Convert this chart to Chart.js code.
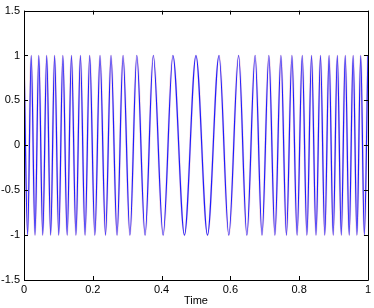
<!DOCTYPE html>
<html>
<head>
<meta charset="utf-8">
<script src="https://cdn.jsdelivr.net/npm/chart.js@4"></script>
<style>
  html, body { margin: 0; padding: 0; background: #fff; }
  #wrap { width: 374px; height: 308px; }
</style>
</head>
<body>
<div id="wrap"><canvas id="chirpChart" width="374" height="308"></canvas></div>
<script>
// times of the crests (y = 1) and troughs (y = -1)
const peakTimes = [
  0, 0.021, 0.043, 0.066, 0.089, 0.113, 0.138, 0.164, 0.191, 0.221, 0.253, 0.288, 0.328, 0.376, 0.433,
  0.5,
  0.567, 0.624, 0.672, 0.712, 0.747, 0.779, 0.809, 0.836, 0.862, 0.887, 0.911, 0.934, 0.957, 0.979, 1
];
const troughTimes = [
  0.0105, 0.032, 0.0545, 0.0775, 0.101, 0.1255, 0.151, 0.1775, 0.206, 0.237, 0.2705, 0.308, 0.352, 0.4045, 0.4665,
  0.5335, 0.5955, 0.648, 0.692, 0.7295, 0.763, 0.794, 0.8225, 0.849, 0.8745, 0.899, 0.9225, 0.9455, 0.968, 0.9895
];
const peakValue = 1;
const troughValue = -1;

const xTicks = [0, 0.2, 0.4, 0.6, 0.8, 1];
const xTickLabels = ['0', '0.2', '0.4', '0.6', '0.8', '1'];
const yTicks = [-1.5, -1, -0.5, 0, 0.5, 1, 1.5];
const yTickLabels = ['-1.5', '-1', '-0.5', '0', '0.5', '1', '1.5'];

const points = peakTimes.map(t => ({ x: t, y: peakValue }))
  .concat(troughTimes.map(t => ({ x: t, y: troughValue })))
  .sort((a, b) => a.x - b.x);

const FONT = { family: 'Liberation Sans, Arial, Helvetica, sans-serif', size: 11 };

// matlab style box with inward ticks
const boxPlugin = {
  id: 'box',
  afterDraw(chart) {
    const { ctx, chartArea: a, scales } = chart;
    ctx.save();
    ctx.strokeStyle = '#000';
    ctx.lineWidth = 1;
    ctx.beginPath();
    ctx.rect(Math.round(a.left) + 0.5, Math.round(a.top) + 0.5,
      Math.round(a.right - a.left), Math.round(a.bottom - a.top));
    const len = 4;
    xTicks.forEach(v => {
      const px = Math.round(scales.x.getPixelForValue(v)) + 0.5;
      ctx.moveTo(px, a.bottom); ctx.lineTo(px, a.bottom - len);
      ctx.moveTo(px, a.top); ctx.lineTo(px, a.top + len);
    });
    yTicks.forEach(v => {
      const py = Math.round(scales.y.getPixelForValue(v)) + 0.5;
      ctx.moveTo(a.left, py); ctx.lineTo(a.left + len, py);
      ctx.moveTo(a.right, py); ctx.lineTo(a.right - len, py);
    });
    ctx.stroke();
    ctx.restore();
  }
};

new Chart(document.getElementById('chirpChart'), {
  type: 'line',
  data: {
    datasets: [
      {
        data: points,
        borderColor: 'rgba(20,20,255,0.95)',
        borderWidth: 1.2,
        pointRadius: 0,
        cubicInterpolationMode: 'monotone',
        order: 0
      },
      {
        data: points,
        borderColor: 'rgba(200,60,120,0.22)',
        borderWidth: 2.2,
        pointRadius: 0,
        cubicInterpolationMode: 'monotone',
        order: 1
      }
    ]
  },
  options: {
    responsive: false,
    animation: false,
    devicePixelRatio: 1,
    layout: { padding: { top: 8, right: 5, left: 0, bottom: 0 } },
    plugins: { legend: { display: false }, tooltip: { enabled: false } },
    scales: {
      x: {
        type: 'linear',
        min: 0, max: 1,
        afterBuildTicks: s => { s.ticks = xTicks.map(v => ({ value: v })); },
        afterFit: s => { s.height = 28; },
        grid: { display: false, drawTicks: false },
        border: { display: false },
        ticks: {
          color: '#000', font: FONT, padding: 3, maxRotation: 0,
          callback: (v, i) => xTickLabels[i]
        },
        title: { display: true, text: 'Time', color: '#000', font: FONT, padding: { top: 0, bottom: 0 } }
      },
      y: {
        min: -1.5, max: 1.5,
        afterBuildTicks: s => { s.ticks = yTicks.map(v => ({ value: v })); },
        afterFit: s => { s.width = 24; },
        grid: { display: false, drawTicks: false },
        border: { display: false },
        ticks: {
          color: '#000', font: FONT, padding: 4,
          callback: (v, i) => yTickLabels[i]
        }
      }
    }
  },
  plugins: [boxPlugin]
});
</script>
</body>
</html>
